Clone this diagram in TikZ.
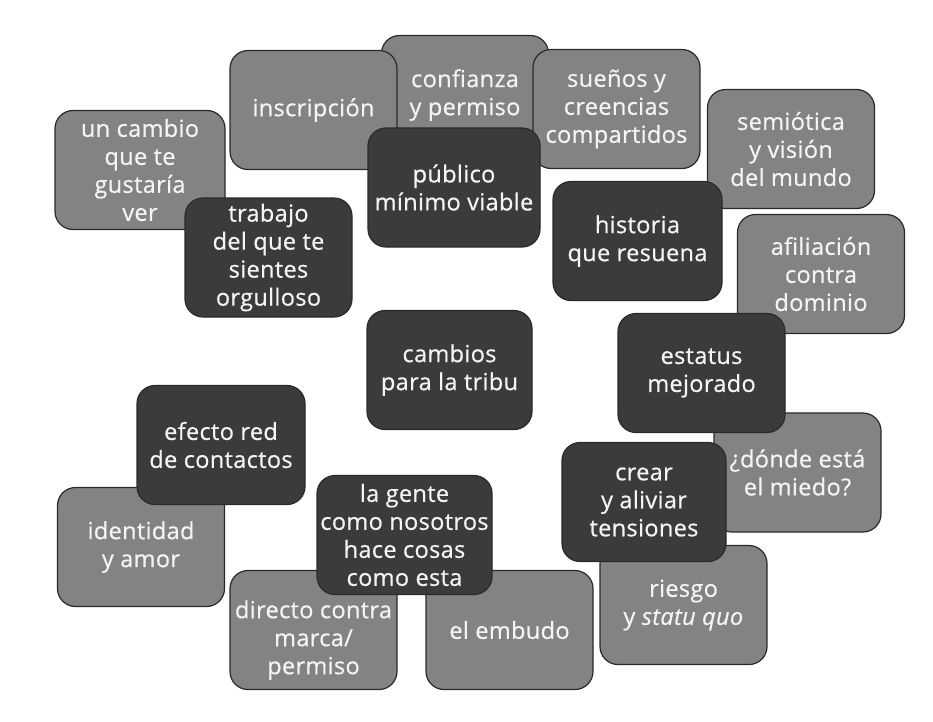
\documentclass[tikz,border=0pt]{standalone}
\usepackage{fontspec}
\setmainfont{Open Sans}[FakeBold=0.6, LetterSpace=1.5]
\definecolor{lightbox}{HTML}{838383}
\definecolor{darkbox}{HTML}{3B3B3B}
\definecolor{boxline}{HTML}{2A2A2A}
\definecolor{boxtext}{HTML}{F4F4F4}
\begin{document}
\begin{tikzpicture}[x=1pt,y=-1pt,
  card/.style={draw=boxline, line width=1.2pt, rounded corners=18pt,
    minimum width=167pt, minimum height=119pt, inner sep=1pt,
    align=center, text=boxtext, font=\fontsize{23.5}{28}\selectfont},
  lightcard/.style={card, fill=lightbox},
  darkcard/.style={card, fill=darkbox}]
\useasboundingbox (0,0) rectangle (933,721);
% light cards
\node[lightcard] (confianza) at (465,95) {confianza\\y permiso};
\node[lightcard] (inscripcion) at (313.5,110) {inscripción};
\node[lightcard] (suenos) at (616.5,109) {sueños y\\creencias\\compartidos};
\node[lightcard, minimum width=170pt] (uncambio) at (140,170) {un cambio\\que te\\gustaría\\ver};
\node[lightcard] (semiotica) at (791,149) {semiótica\\y visión\\del mundo};
\node[lightcard] (afiliacion) at (821,274) {afiliación\\contra\\dominio};
\node[lightcard] (donde) at (797.5,472.5) {¿dónde está\\el miedo?};
\node[lightcard] (riesgo) at (683.5,605) {riesgo\\y \textit{statu quo}};
\node[lightcard] (embudo) at (509.5,630) {el embudo};
\node[lightcard] (directo) at (313.5,630) {\\[10pt]directo contra\\marca/\\permiso};
\node[lightcard] (identidad) at (141,547) {identidad\\y amor};
% dark cards
\node[darkcard, minimum width=172pt] (publico) at (454,187.5) {público\\mínimo viable};
\node[darkcard] (trabajo) at (268.5,257.5) {trabajo\\del que te\\sientes\\orgulloso};
\node[darkcard, minimum width=169pt] (historia) at (637.5,241) {historia\\que resuena};
\node[darkcard] (estatus) at (701.5,373) {estatus\\mejorado};
\node[darkcard, minimum width=165pt] (cambios) at (449.5,370) {cambios\\para la tribu};
\node[darkcard, minimum width=164pt] (crear) at (644,502) {crear\\y aliviar\\tensiones};
\node[darkcard, minimum width=175pt] (lagente) at (404.5,535) {la gente\\como nosotros\\hace cosas\\como esta};
\node[darkcard, minimum width=168pt] (efecto) at (221,445) {efecto red\\de contactos};
\end{tikzpicture}
\end{document}
